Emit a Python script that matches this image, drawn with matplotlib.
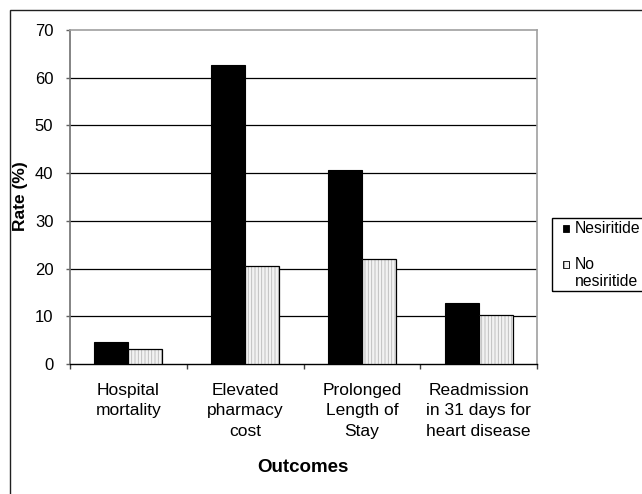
import matplotlib
matplotlib.use("Agg")
import matplotlib.pyplot as plt
from matplotlib.patches import Rectangle
import numpy as np

plt.rcParams['font.family'] = ['Liberation Sans', 'DejaVu Sans']
plt.rcParams['hatch.linewidth'] = 0.6

categories = ["Hospital\nmortality", "Elevated\npharmacy\ncost", "Prolonged\nLength of\nStay",
              "Readmission\nin 31 days for\nheart disease"]
nesiritide = [4.7, 62.7, 40.6, 12.7]
no_nesiritide = [3.1, 20.6, 22.0, 10.2]
yticks = [0, 10, 20, 30, 40, 50, 60, 70]
series_names = ["Nesiritide", "No\nnesiritide"]

W, H = 642, 494
fig = plt.figure(figsize=(W / 100, H / 100), dpi=100)

def fx(px):
    return px / W

def fy(py):
    return 1 - py / H

# outer border
fig.add_artist(Rectangle((fx(10), fy(520)), fx(700), fy(9.5) - fy(520),
                         transform=fig.transFigure, fill=False, edgecolor='#202020', lw=1))

ax = fig.add_axes([fx(70), fy(364), fx(537) - fx(70), fy(30) - fy(364)])
x = np.arange(len(categories))
bw = 34 / 117

ax.bar(x - bw / 2, nesiritide, bw, color='black', edgecolor='black', lw=0.8, zorder=3)
ax.bar(x + bw / 2, no_nesiritide, bw, color='#f2f2f2', edgecolor='#b8b8b8', hatch='|||||', lw=0, zorder=3)
ax.bar(x + bw / 2, no_nesiritide, bw, fill=False, edgecolor='black', lw=0.9, zorder=4)

ax.set_xlim(-0.5, len(categories) - 0.5)
ax.set_ylim(0, 70)
ax.set_yticks(yticks)
ax.set_yticklabels([str(v) for v in yticks], fontsize=12)
for v in yticks[1:-1]:
    ax.axhline(v, color='black', lw=0.9, zorder=1)

ax.set_xticks(x)
ax.set_xticklabels(categories, fontsize=12.5, linespacing=1.45)
ax.tick_params(axis='x', which='major', length=0, pad=13.5)
ax.set_xticks(np.arange(-0.5, len(categories) + 0.5, 1), minor=True)
ax.tick_params(axis='x', which='minor', length=3.8, width=1, color='#404040', direction='out')
ax.tick_params(axis='y', length=3, width=1, color='#606060', pad=9, direction='out')

for s in ['top', 'right']:
    ax.spines[s].set_color('#a0a0a0')
    ax.spines[s].set_linewidth(1.2)
ax.spines['left'].set_color('#707070')
ax.spines['left'].set_linewidth(1.2)
ax.spines['bottom'].set_color('black')
ax.spines['bottom'].set_linewidth(1.0)

fig.text(fx(303), fy(467), "Outcomes", fontsize=13.5, fontweight='bold', ha='center', va='center')
fig.text(fx(21), fy(196.5), "Rate (%)", fontsize=12.5, fontweight='bold', ha='center', va='center', rotation=90)

# legend (manual)
fig.add_artist(Rectangle((fx(551.7), fy(291)), fx(660) - fx(551.7), fy(218.3) - fy(291),
                         transform=fig.transFigure, fill=False, edgecolor='black', lw=1))
fig.add_artist(Rectangle((fx(562.5), fy(231.5)), fx(6.5), fy(0) - fy(6.5),
                         transform=fig.transFigure, facecolor='black', edgecolor='black', lw=0.6))
fig.add_artist(Rectangle((fx(562.5), fy(267.5)), fx(6.5), fy(0) - fy(6.5),
                         transform=fig.transFigure, facecolor='#f2f2f2', edgecolor='black',
                         hatch='|||', lw=0.6))
fig.text(fx(575), fy(228.5), series_names[0], fontsize=11.3, ha='left', va='center')
fig.text(fx(575), fy(264.5), series_names[1].split("\n")[0], fontsize=11.3, ha='left', va='center')
fig.text(fx(575), fy(282), series_names[1].split("\n")[1], fontsize=11.3, ha='left', va='center')

fig.savefig("out.png", dpi=100)
